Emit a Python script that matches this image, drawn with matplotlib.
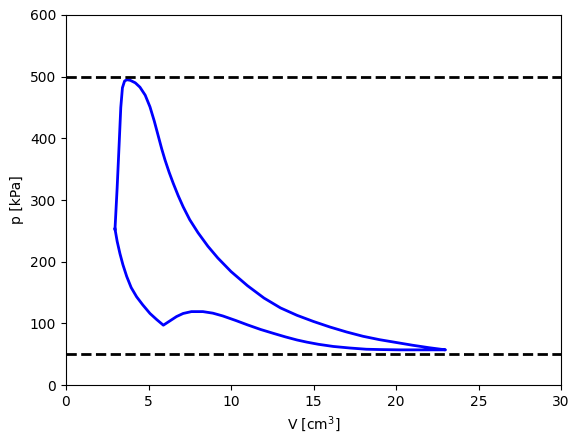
import numpy as np
import matplotlib.pyplot as plt

# upper branch: from start of combustion to the end of expansion
V_upper = [2.97, 3.1, 3.22, 3.32, 3.42, 3.55, 3.7, 3.9, 4.2, 4.48, 4.8, 5.09, 5.35, 5.6,
           5.8, 6.0, 6.25, 6.5, 6.8, 7.1, 7.5, 8.0, 8.6, 9.2, 10.0, 11.0, 12.0,
           13.0, 14.0, 15.0, 16.0, 17.0, 18.0, 19.0, 20.0, 21.0, 22.0, 23.0]
p_upper = [253, 320, 390, 450, 482, 493, 495, 494, 490, 483, 470, 451, 428, 403,
           383, 365, 345, 327, 307, 289, 268, 247, 225, 206, 184, 161, 141,
           125, 113, 103, 94, 86, 79, 73.5, 69, 64.5, 60.5, 57]

# lower branch: back from the end of expansion to the start
V_lower = [23.0, 21.5, 20.2, 19.0, 18.2, 17.2, 16.2, 15.3, 14.6, 14.0, 13.3, 12.6,
           11.8, 11.0, 10.3, 9.5, 8.9, 8.3, 7.6, 7.1, 6.7, 6.3, 5.9, 5.5, 5.09,
           4.65, 4.28, 3.95, 3.68, 3.45, 3.27, 3.1, 2.97]
p_lower = [57, 57, 57, 57.5, 58, 60, 62.5, 66, 69.5, 73, 78, 83.5,
           90, 97.5, 104.5, 112, 116.5, 119, 119, 116, 111, 104, 97, 106, 116,
           130, 143, 158, 176, 195, 213, 233, 253]

p_max = 500
p_min = 50

V = np.array(V_upper + V_lower[1:])
p = np.array(p_upper + p_lower[1:])

fig = plt.figure(figsize=(5.8, 4.44), dpi=100)
ax = fig.add_subplot(111)
fig.subplots_adjust(left=66/580, right=561/580, top=1-15/444, bottom=1-385/444)

ax.plot(V, p, color='blue', lw=2)
ax.axhline(p_max, color='black', ls='--', lw=2)
ax.axhline(p_min, color='black', ls='--', lw=2)

ax.set_xlim(0, 30)
ax.set_ylim(0, 600)
ax.set_xlabel(r'V [cm$^3$]')
ax.set_ylabel('p [kPa]')

fig.savefig('out.png', dpi=100)
